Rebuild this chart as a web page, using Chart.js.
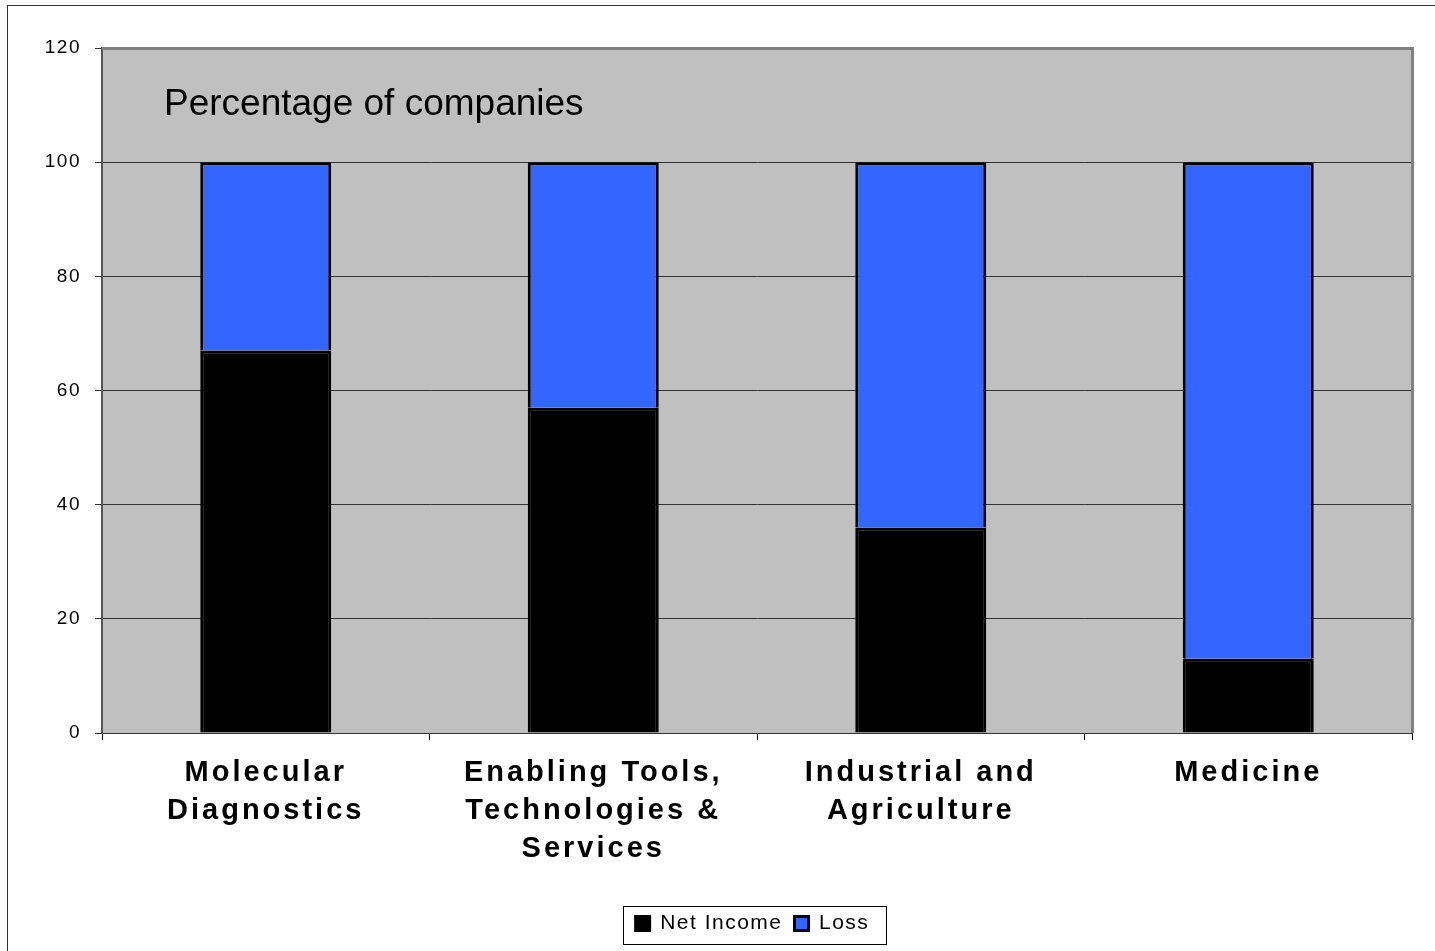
<!DOCTYPE html>
<html>
<head>
<meta charset="utf-8">
<script src="https://cdn.jsdelivr.net/npm/chart.js@4.4.1/dist/chart.umd.min.js"></script>
<style>
  html, body { margin:0; padding:0; background:#fff; }
  #wrap { width:1435px; height:951px; position:relative; }
</style>
</head>
<body>
<div id="wrap"><canvas id="chart" width="1435" height="951"></canvas></div>
<script>
const categories = [
  ['Molecular', 'Diagnostics'],
  ['Enabling Tools,', 'Technologies &', 'Services'],
  ['Industrial and', 'Agriculture'],
  ['Medicine']
];
const netIncome = [67, 57, 36, 13];
const loss = [33, 43, 64, 87];
const yTicks = [0, 20, 40, 60, 80, 100, 120];
const chartLabel = 'Percentage of companies';

// frame, plot background, in-plot caption, legend box
const decor = {
  id: 'decor',
  afterLayout(chart){
    // legend sits right of centre in the original
    const lg = chart.legend;
    lg.left += 36; lg.right += 36;
  },
  beforeDraw(chart){
    const {ctx, chartArea:a} = chart;
    ctx.save();
    ctx.fillStyle = '#fff';
    ctx.fillRect(0, 0, chart.width, chart.height);
    ctx.strokeStyle = '#333';
    ctx.lineWidth = 1;
    ctx.strokeRect(7.5, 5.5, chart.width + 20, chart.height + 20);
    ctx.fillStyle = '#c0c0c0';
    ctx.fillRect(a.left, a.top, a.right - a.left, a.bottom - a.top);
    ctx.restore();
    ctx.letterSpacing = '1.5px';
  },
  afterDatasetsDraw(chart){
    chart.ctx.letterSpacing = '3px';
  },
  afterDraw(chart){
    const {ctx, chartArea:a} = chart;
    ctx.letterSpacing = '0px';
    ctx.save();
    // plot border top/right
    ctx.strokeStyle = '#808080';
    ctx.lineWidth = 3;
    ctx.beginPath();
    ctx.moveTo(a.left, a.top + 0.5);
    ctx.lineTo(a.right + 0.5, a.top + 0.5);
    ctx.lineTo(a.right + 0.5, a.bottom);
    ctx.stroke();
    ctx.fillStyle = '#000';
    ctx.font = '37px "Liberation Sans", Arial, sans-serif';
    ctx.textBaseline = 'alphabetic';
    ctx.fillText(chartLabel, 164, 115);
    // legend frame
    ctx.strokeStyle = '#000';
    ctx.lineWidth = 1;
    ctx.strokeRect(623.5, 906.5, 263, 38);
    ctx.restore();
  }
};

new Chart(document.getElementById('chart'), {
  type: 'bar',
  data: {
    labels: categories,
    datasets: [
      { label: 'Net Income', data: netIncome, backgroundColor: '#000000', borderColor: '#000000', borderWidth: 3 },
      { label: 'Loss', data: loss, backgroundColor: '#3366ff', borderColor: '#000000', borderWidth: 3 }
    ]
  },
  options: {
    responsive: false,
    animation: false,
    devicePixelRatio: 1,
    layout: { padding: { left: 0, right: 23, top: 48, bottom: 7 } },
    categoryPercentage: 1,
    barPercentage: 0.4,
    scales: {
      x: {
        stacked: true,
        offset: true,
        grid: { display: true, offset: true, drawOnChartArea: false, tickLength: 7, color: '#000', lineWidth: 1 },
        border: { color: '#333', width: 1 },
        ticks: {
          z: 1,
          color: '#000',
          padding: 14,
          maxRotation: 0,
          autoSkip: false,
          font: { family: '"Liberation Sans", Arial, sans-serif', size: 29, weight: 'bold', lineHeight: 38 / 29 }
        },
        afterFit(s){ s.height = 168; }
      },
      y: {
        stacked: true,
        min: 0,
        max: 120,
        grid: { color: '#333', lineWidth: 1, tickLength: 7 },
        border: { color: '#555', width: 2 },
        afterBuildTicks(s){ s.ticks = yTicks.map(v => ({ value: v })); },
        ticks: {
          color: '#000',
          padding: 14,
          font: { family: '"Liberation Sans", Arial, sans-serif', size: 19 }
        },
        afterFit(s){ s.width = 102; }
      }
    },
    plugins: {
      legend: {
        position: 'bottom',
        labels: {
          color: '#000',
          boxWidth: 14,
          boxHeight: 14,
          padding: 12,
          font: { family: '"Liberation Sans", Arial, sans-serif', size: 21 }
        }
      },
      tooltip: { enabled: false }
    }
  },
  plugins: [decor]
});
</script>
</body>
</html>
